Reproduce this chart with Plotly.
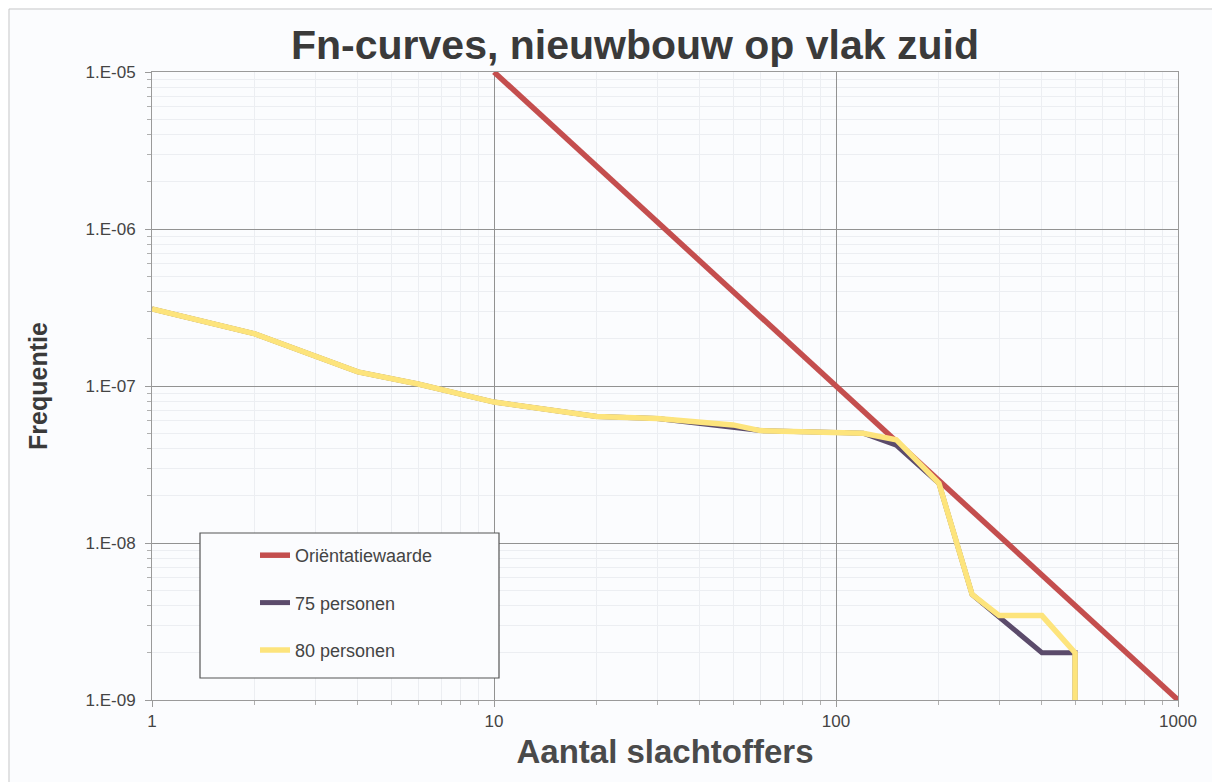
import plotly.graph_objects as go

# ---- data ----
orient_n = [10, 100, 1000]
orient_f = [1e-5, 1e-7, 1e-9]

p75_n = [1, 2, 4, 6, 10, 20, 30, 60, 100, 120, 150, 200, 250, 300, 400, 500, 500]
p75_f = [3.1e-7, 2.15e-7, 1.23e-7, 1.03e-7, 7.9e-8, 6.4e-8, 6.2e-8, 5.2e-8, 5.05e-8,
         5.0e-8, 4.2e-8, 2.4e-8, 4.7e-9, 3.4e-9, 2.0e-9, 2.0e-9, 1.0e-9]

p80_n = [1, 2, 4, 6, 10, 20, 30, 50, 60, 100, 120, 150, 200, 250, 300, 400, 500, 500]
p80_f = [3.1e-7, 2.15e-7, 1.23e-7, 1.03e-7, 7.9e-8, 6.4e-8, 6.2e-8, 5.65e-8, 5.2e-8, 5.05e-8,
         5.0e-8, 4.55e-8, 2.4e-8, 4.7e-9, 3.45e-9, 3.45e-9, 2.0e-9, 1.0e-9]

x_tickvals = [1, 10, 100, 1000]
x_ticktext = ["1", "10", "100", "1000"]
y_tickvals = [1e-9, 1e-8, 1e-7, 1e-6, 1e-5]
y_ticktext = ["1.E-09", "1.E-08", "1.E-07", "1.E-06", "1.E-05"]

series_names = ["Oriëntatiewaarde", "75 personen", "80 personen"]

x_minor = [k * 10 ** e for e in range(0, 3) for k in range(2, 10)]
y_minor = [k * 10.0 ** e for e in range(-9, -5) for k in range(2, 10)]

BG = "#fbfcfe"
FONT = "Liberation Sans, Arial, sans-serif"

# page body has an 8 px margin: figure occupies screen x 8..1220, y 8..782
W, H = 1212, 774
OFF = 8

fig = go.Figure()
fig.add_trace(go.Scatter(x=orient_n, y=orient_f, mode="lines", name=series_names[0],
                         legendgroup="a", line=dict(color="#c44e4e", width=5.5)))
fig.add_trace(go.Scatter(x=p75_n, y=p75_f, mode="lines", name=series_names[1],
                         legendgroup="b", line=dict(color="#5b4b6b", width=5)))
fig.add_trace(go.Scatter(x=p80_n, y=p80_f, mode="lines", name=series_names[2],
                         legendgroup="c", line=dict(color="#fde47c", width=5.5)))

axis_common = dict(
    showline=True, linecolor="#9a9a9a", linewidth=1, mirror=True,
    showgrid=True, gridcolor="#929292", gridwidth=1,
    ticks="outside", ticklen=6, tickcolor="#9a9a9a",
    tickfont=dict(family=FONT, size=17, color="#444444"),
    zeroline=False,
)

fig.update_xaxes(type="log", range=[0, 3], tickmode="array",
                 tickvals=x_tickvals, ticktext=x_ticktext,
                 minor=dict(tickmode="array", tickvals=x_minor, showgrid=True,
                            gridcolor="#eceef2", gridwidth=1,
                            ticks="outside", ticklen=4, tickcolor="#b0b0b0"),
                 title=dict(text="<b>Aantal slachtoffers</b>", standoff=9,
                            font=dict(family=FONT, size=33, color="#4a4a4a")),
                 **axis_common)
fig.update_yaxes(type="log", range=[-9, -5], tickmode="array",
                 tickvals=y_tickvals, ticktext=y_ticktext, ticklabelstandoff=6,
                 minor=dict(tickmode="array", tickvals=y_minor, showgrid=True,
                            gridcolor="#eceef2", gridwidth=1,
                            ticks="outside", ticklen=4, tickcolor="#b0b0b0"),
                 title=dict(text="<b>Frequentie</b>", standoff=30,
                            font=dict(family=FONT, size=25, color="#3a3a3a")),
                 **axis_common)

# legend box
fig.add_shape(type="rect", xref="paper", yref="paper",
              x0=(200 - 152) / 1026, x1=(499 - 152) / 1026,
              y0=(700 - 678) / 628, y1=(700 - 533) / 628,
              line=dict(color="#555555", width=1.2), fillcolor=BG, layer="above")
# faint outer frame (top and left)
fig.add_shape(type="line", xref="paper", yref="paper",
              x0=(9 - 152) / 1026, x1=(1222 - 152) / 1026,
              y0=(700 - 9) / 628, y1=(700 - 9) / 628,
              line=dict(color="#c8c8c8", width=1))
fig.add_shape(type="line", xref="paper", yref="paper",
              x0=(9 - 152) / 1026, x1=(9 - 152) / 1026,
              y0=(700 - 9) / 628, y1=(700 - 790) / 628,
              line=dict(color="#c8c8c8", width=1))

fig.update_layout(
    width=W, height=H,
    margin=dict(l=152 - OFF, r=1220 - 1178, t=72 - OFF, b=782 - 700),
    paper_bgcolor=BG, plot_bgcolor=BG,
    title=dict(text="<b>Fn-curves, nieuwbouw op vlak zuid</b>",
               x=(635 - OFF) / W, xanchor="center", xref="container",
               y=1 - (45 - OFF) / H, yanchor="middle", yref="container",
               font=dict(family=FONT, size=41, color="#3a3a3a")),
    showlegend=True,
    legend=dict(x=(255 - 152) / 1026, xanchor="left",
                y=(700 - 537) / 628, yanchor="top",
                bgcolor="rgba(0,0,0,0)", borderwidth=0,
                tracegroupgap=21, traceorder="grouped",
                font=dict(family=FONT, size=18, color="#444444")),
)

fig.write_html("out.html")
